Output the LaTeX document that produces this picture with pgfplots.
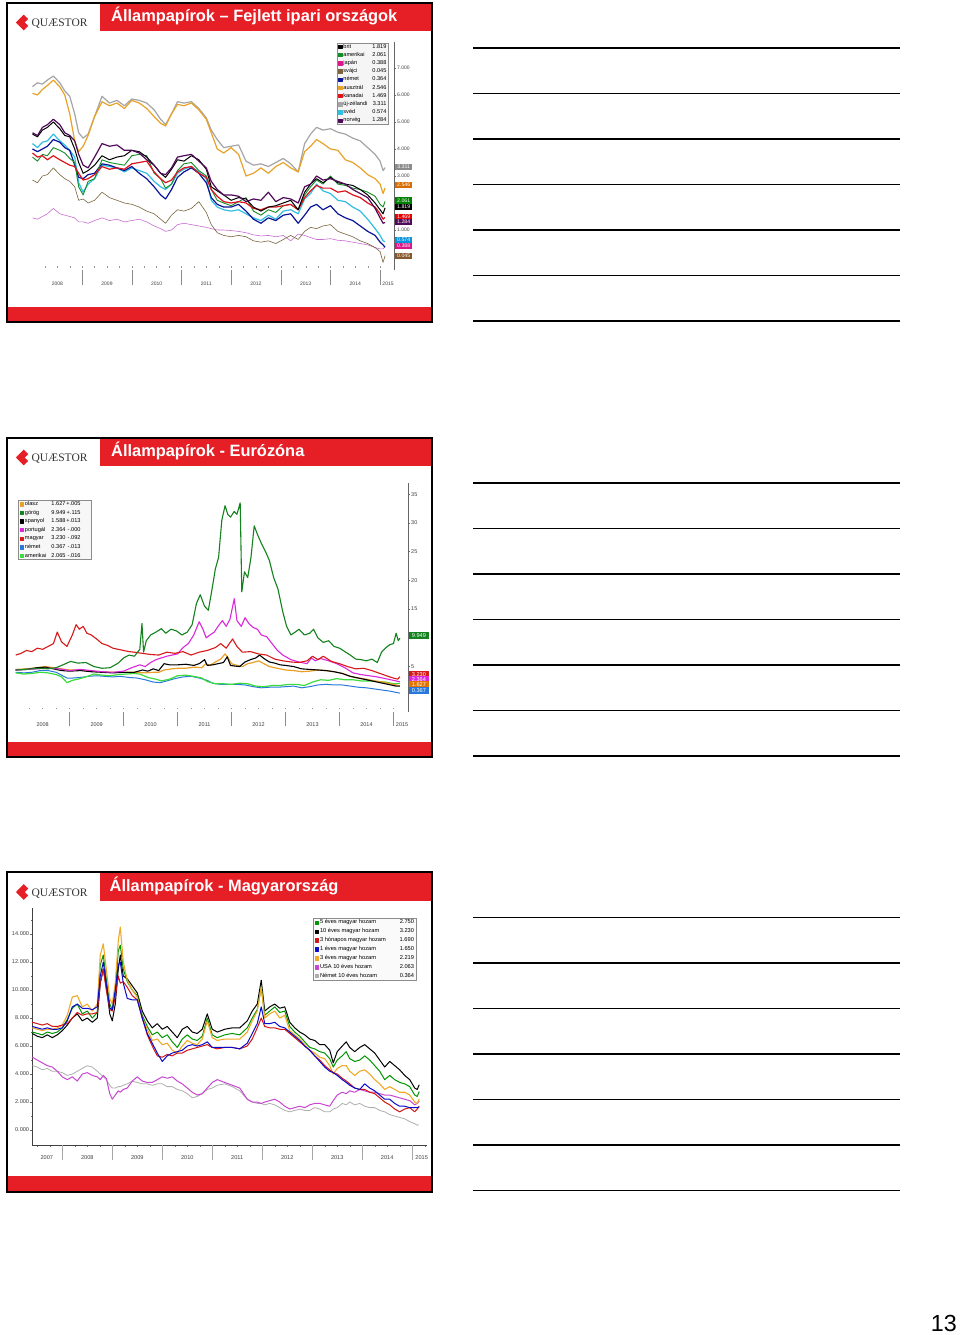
\documentclass[border=0pt]{standalone}
\usepackage{pgfplots}
\pgfplotsset{compat=1.18}
\usepackage{pgfplotstable}
\usepackage{fontspec}
\setmainfont{Liberation Sans}
\newfontfamily\logofont{Liberation Serif}

\newcommand\fz[1]{\fontsize{#1}{#1}\selectfont}

\definecolor{qred}{RGB}{230,30,38}
% chart 1
\definecolor{c1brit}{RGB}{0,0,0}
\definecolor{c1ame}{RGB}{20,140,40}
\definecolor{c1jap}{RGB}{200,110,210}
\definecolor{c1svj}{RGB}{120,100,60}
\definecolor{c1nem}{RGB}{10,20,150}
\definecolor{c1aus}{RGB}{232,162,40}
\definecolor{c1kan}{RGB}{220,20,30}
\definecolor{c1nz}{RGB}{165,165,165}
\definecolor{c1sve}{RGB}{50,190,225}
\definecolor{c1nor}{RGB}{80,10,90}
% chart 2
\definecolor{c2ola}{RGB}{232,160,40}
\definecolor{c2gor}{RGB}{20,130,30}
\definecolor{c2spa}{RGB}{0,0,0}
\definecolor{c2por}{RGB}{220,40,220}
\definecolor{c2mag}{RGB}{215,25,25}
\definecolor{c2nem}{RGB}{40,120,220}
\definecolor{c2ame}{RGB}{60,220,60}
% chart 3
\definecolor{c3g}{RGB}{0,150,0}
\definecolor{c3k}{RGB}{0,0,0}
\definecolor{c3r}{RGB}{210,20,20}
\definecolor{c3b}{RGB}{10,10,200}
\definecolor{c3o}{RGB}{240,170,40}
\definecolor{c3m}{RGB}{200,70,210}
\definecolor{c3y}{RGB}{175,175,175}

\pgfplotstableread{
t brit ame jap svj nem aus kan nz sve nor
2008.00 4.55 3.70 1.45 2.85 4.00 6.06 3.85 6.31 4.20 4.60
2008.10 4.45 3.55 1.40 2.75 3.90 6.00 3.70 6.45 4.05 4.50
2008.20 4.70 3.80 1.50 3.00 4.00 6.20 3.75 6.40 4.25 4.80
2008.30 4.80 3.75 1.60 3.05 4.10 6.35 3.60 6.55 4.30 4.90
2008.42 5.00 4.05 1.80 3.30 4.35 6.55 3.75 6.70 4.55 5.10
2008.55 4.75 3.95 1.60 3.05 4.25 6.30 3.60 6.45 4.30 4.90
2008.65 4.50 3.85 1.55 2.90 4.05 6.00 3.50 6.15 4.15 4.60
2008.75 4.45 3.65 1.50 2.80 3.95 5.30 3.40 5.95 3.95 4.50
2008.85 4.00 3.50 1.45 2.60 3.40 4.30 3.35 5.30 3.70 4.30
2008.93 3.50 2.60 1.30 2.10 2.95 3.90 3.10 4.60 2.75 3.80
2009.02 3.10 2.30 1.30 2.15 2.90 4.10 2.85 4.40 2.40 3.40
2009.12 3.20 2.80 1.25 2.00 3.05 4.50 2.90 4.55 2.70 3.30
2009.25 3.40 2.90 1.35 2.10 3.10 5.20 3.05 5.20 2.90 3.70
2009.40 3.75 3.60 1.45 2.40 3.45 5.75 3.35 5.95 3.40 4.20
2009.55 3.60 3.50 1.35 2.20 3.40 5.60 3.25 5.70 3.35 4.10
2009.70 3.70 3.45 1.40 2.10 3.30 5.70 3.30 5.80 3.30 4.15
2009.85 3.75 3.40 1.30 2.00 3.20 5.50 3.25 5.60 3.15 3.95
2010.00 3.95 3.75 1.35 1.95 3.35 5.80 3.45 5.85 3.30 3.95
2010.15 3.90 3.80 1.40 1.85 3.10 5.70 3.50 5.80 3.20 3.85
2010.30 3.70 3.75 1.30 1.70 2.90 5.50 3.55 5.70 3.10 3.60
2010.45 3.40 3.10 1.15 1.60 2.60 5.20 3.15 5.45 2.80 3.40
2010.58 3.10 2.90 1.05 1.40 2.30 4.95 2.90 5.10 2.60 3.10
2010.68 2.95 2.55 0.95 1.25 2.15 4.85 2.75 4.90 2.50 3.05
2010.80 3.25 2.70 1.00 1.55 2.50 5.30 2.85 5.30 2.70 3.30
2010.92 3.60 3.20 1.20 1.75 2.95 5.65 3.15 5.75 3.10 3.70
2011.05 3.55 3.45 1.25 1.70 3.15 5.60 3.30 5.70 3.25 3.75
2011.20 3.75 3.50 1.20 1.80 3.30 5.70 3.35 5.75 3.35 3.80
2011.35 3.60 3.20 1.15 2.05 3.10 5.45 3.10 5.50 3.15 3.55
2011.50 3.25 3.00 1.10 1.65 2.75 5.10 2.95 5.15 2.90 3.30
2011.60 2.60 2.50 1.05 1.20 2.20 4.60 2.50 4.70 2.10 2.80
2011.72 2.45 2.10 1.00 0.90 1.95 4.00 2.25 4.35 1.85 2.50
2011.85 2.30 2.00 1.00 0.80 1.85 3.85 2.05 4.05 1.75 2.30
2012.00 2.10 1.90 0.98 0.75 1.85 4.05 2.00 4.10 1.70 2.30
2012.15 2.20 2.05 0.95 0.80 1.95 3.80 2.05 4.15 1.75 2.25
2012.30 2.15 2.20 0.90 0.75 1.70 3.00 2.00 3.55 1.60 2.05
2012.45 1.85 1.70 0.82 0.60 1.40 3.10 1.80 3.40 1.45 2.15
2012.60 1.70 1.55 0.78 0.55 1.25 3.30 1.75 3.45 1.35 2.10
2012.75 1.85 1.75 0.80 0.60 1.45 3.10 1.85 3.35 1.55 2.40
2012.90 1.90 1.65 0.75 0.50 1.35 3.35 1.85 3.50 1.40 2.05
2013.05 2.00 1.90 0.80 0.65 1.55 3.50 1.90 3.65 1.70 2.20
2013.20 2.10 1.95 0.60 0.80 1.60 3.30 1.95 3.45 1.75 2.15
2013.35 1.75 1.75 0.85 0.65 1.25 3.15 1.75 3.15 1.60 2.00
2013.48 2.40 2.30 0.80 0.95 1.55 3.90 2.20 4.20 2.15 2.60
2013.60 2.70 2.60 0.72 1.10 1.85 4.10 2.45 4.55 2.35 2.70
2013.72 2.90 2.85 0.65 1.05 1.95 4.35 2.65 4.80 2.70 3.00
2013.85 2.75 2.70 0.65 1.15 1.75 4.20 2.55 4.70 2.45 2.85
2014.00 2.95 3.00 0.68 1.20 1.90 4.00 2.55 4.75 2.35 2.90
2014.15 2.75 2.70 0.62 0.95 1.60 3.95 2.40 4.62 2.10 2.80
2014.30 2.70 2.65 0.60 0.85 1.45 3.60 2.45 4.55 2.05 2.70
2014.45 2.65 2.55 0.55 0.75 1.35 3.50 2.30 4.40 1.85 2.50
2014.60 2.50 2.50 0.50 0.60 1.15 3.30 2.20 4.30 1.70 2.35
2014.75 2.30 2.40 0.45 0.50 0.95 3.05 2.00 4.05 1.40 2.20
2014.90 2.00 2.25 0.35 0.35 0.80 2.90 1.85 3.80 1.05 1.80
2015.00 1.75 1.95 0.30 0.20 0.55 2.70 1.60 3.55 0.80 1.45
2015.06 1.60 1.85 0.30 -0.20 0.45 2.35 1.40 3.20 0.60 1.25
2015.10 1.82 2.06 0.39 0.05 0.36 2.55 1.47 3.31 0.57 1.28
}\tabA

\pgfplotstableread{
t bk gr or rd bl mg gy
2007.40 6.9 7.0 7.3 7.7 7.4 5.2 4.6
2007.50 6.7 6.9 7.2 7.6 7.3 5.0 4.5
2007.60 6.6 6.8 7.1 7.5 7.2 4.8 4.3
2007.70 6.8 7.0 7.2 7.6 7.3 4.6 4.4
2007.80 6.6 6.9 7.2 7.4 7.2 4.5 4.2
2007.90 6.8 7.0 7.3 7.4 7.2 4.2 4.2
2008.00 7.1 7.3 7.5 7.5 7.3 3.8 4.1
2008.10 7.5 7.9 8.2 7.6 7.8 3.6 3.9
2008.20 8.0 8.7 9.5 8.0 8.8 3.8 4.0
2008.30 8.3 9.0 9.6 8.4 9.0 3.5 4.2
2008.40 7.8 8.3 8.8 8.2 8.7 4.0 4.4
2008.50 8.0 8.5 9.0 8.3 8.7 4.1 4.6
2008.60 7.7 8.0 8.5 8.3 8.6 3.9 4.5
2008.70 8.0 8.4 9.0 8.4 8.8 3.8 4.2
2008.76 10.5 11.8 12.5 10.5 11.0 3.6 4.0
2008.82 11.5 12.5 13.3 11.5 12.0 3.9 3.8
2008.88 10.3 10.8 11.5 10.0 10.5 3.7 3.6
2008.95 8.3 9.0 9.4 8.6 8.7 2.6 3.2
2009.00 7.8 8.6 9.0 8.5 8.6 2.2 3.0
2009.06 9.0 10.0 10.5 9.5 10.0 2.5 3.0
2009.12 11.5 12.8 13.5 11.0 11.8 2.8 3.1
2009.16 12.5 13.2 14.5 10.5 12.0 2.7 3.1
2009.22 11.0 11.5 12.0 10.6 10.5 2.9 3.2
2009.30 10.8 10.6 10.7 10.2 9.4 3.0 3.3
2009.40 10.3 10.0 10.0 9.6 9.3 3.5 3.5
2009.50 9.8 9.6 9.5 9.3 9.3 3.8 3.4
2009.60 8.5 8.2 8.0 8.0 8.0 3.5 3.3
2009.70 7.8 7.4 7.2 6.8 6.9 3.4 3.3
2009.80 7.3 6.8 6.4 6.0 6.2 3.4 3.2
2009.90 7.6 7.0 6.5 5.3 5.5 3.6 3.3
2010.00 7.2 6.6 6.1 5.2 4.9 3.8 3.3
2010.10 7.4 6.8 6.2 5.4 5.3 3.7 3.1
2010.20 7.0 6.3 5.7 5.3 5.5 3.8 3.1
2010.30 6.6 5.9 5.5 5.5 5.6 3.5 2.9
2010.40 7.2 6.5 6.0 5.5 5.7 3.3 2.8
2010.50 7.4 6.8 6.4 5.7 6.0 3.0 2.6
2010.60 7.0 6.5 6.2 5.8 6.1 2.7 2.3
2010.70 6.9 6.4 6.1 5.9 6.0 2.5 2.4
2010.80 7.2 6.7 6.5 6.0 6.1 2.6 2.6
2010.90 8.3 8.0 7.8 6.1 6.3 3.0 2.9
2011.00 7.2 6.8 6.6 5.9 5.9 3.4 3.0
2011.10 7.0 6.6 6.4 5.8 5.9 3.6 3.2
2011.25 7.2 6.8 6.5 5.9 5.9 3.4 3.3
2011.40 7.3 6.9 6.5 5.9 5.9 3.2 3.1
2011.55 7.3 6.8 6.5 5.8 5.8 3.0 2.8
2011.70 7.8 7.3 7.0 6.0 6.2 2.2 2.2
2011.80 8.5 8.0 7.8 6.5 6.9 2.0 2.0
2011.90 9.0 8.6 8.5 7.3 7.6 2.0 1.9
2011.98 10.7 10.2 10.2 8.0 8.8 1.9 1.9
2012.05 8.5 8.2 8.0 7.4 7.6 2.0 1.8
2012.15 8.8 8.5 8.3 7.3 7.6 2.1 1.9
2012.25 9.0 8.8 8.5 7.3 7.7 2.2 1.8
2012.35 8.7 8.4 8.0 7.2 7.4 2.0 1.6
2012.45 8.8 8.5 8.2 7.2 7.3 1.7 1.4
2012.55 7.7 7.4 7.1 6.9 7.0 1.5 1.3
2012.65 7.3 7.0 6.8 6.6 6.7 1.6 1.4
2012.75 7.0 6.7 6.5 6.3 6.4 1.7 1.5
2012.85 6.8 6.3 6.1 6.0 6.0 1.6 1.4
2012.95 6.5 5.9 5.7 5.7 5.7 1.8 1.4
2013.05 6.4 5.8 5.5 5.3 5.3 1.9 1.6
2013.15 6.1 5.6 5.2 5.0 4.9 1.9 1.5
2013.25 6.1 5.5 5.1 4.6 4.5 1.8 1.3
2013.35 5.7 5.1 4.6 4.3 4.2 1.7 1.3
2013.42 4.8 4.5 4.0 4.1 4.1 2.1 1.5
2013.50 5.6 5.0 4.4 4.0 3.9 2.5 1.6
2013.60 6.0 5.3 4.6 3.7 3.6 2.7 1.9
2013.68 6.3 5.6 4.6 3.5 3.4 2.6 1.8
2013.75 5.9 5.1 4.2 3.3 3.2 2.8 2.0
2013.85 5.6 4.9 3.9 3.0 3.0 2.7 1.8
2013.95 5.9 5.0 4.2 2.9 2.9 2.9 1.9
2014.05 6.1 5.3 4.3 2.9 3.3 2.8 1.7
2014.15 5.8 5.0 4.0 2.7 3.0 2.7 1.6
2014.25 5.5 4.6 3.6 2.6 2.8 2.7 1.6
2014.35 5.0 4.2 3.3 2.3 2.5 2.6 1.4
2014.45 4.5 3.6 2.9 2.0 2.2 2.5 1.3
2014.55 4.9 3.9 3.1 1.8 2.2 2.5 1.1
2014.65 4.6 3.6 2.9 1.5 1.9 2.4 1.0
2014.75 4.3 3.4 2.7 1.3 1.7 2.3 0.9
2014.85 3.9 3.3 2.7 1.5 1.7 2.2 0.8
2014.95 3.6 3.1 2.5 1.6 1.6 2.1 0.6
2015.05 3.0 2.5 2.0 1.3 1.6 1.8 0.45
2015.10 2.9 2.4 1.9 1.5 1.6 1.9 0.35
2015.14 3.23 2.75 2.22 1.69 1.65 2.06 0.36
}\tabC

\tikzset{vlab/.style={anchor=west, inner sep=0pt, text=white, xshift=1pt}}

\newcommand\slide[3]{%
\begin{scope}[x=1pt,y=-1pt,yshift=-#1pt]
\fill[white] (7.3,2.7) rectangle (432,322.3);
\fill[qred] (100,3.7) rectangle (431,31.3);
\fill[qred] (8.3,306.7) rectangle (431,321.3);
\draw[line width=1.8pt] (7.3,2.7) rectangle (432,322.3);
\fill[qred] (16,22.5) -- (23.8,14.6) -- (31.6,22.5) -- (23.8,30.4) -- cycle;
\fill[white] (25,22.5) -- (31.9,15.6) -- (31.9,29.4) -- cycle;
\node[anchor=base west, inner sep=0pt, text=black!80, font=\logofont\fz{11.5}] at (31.3,26.7) {QUÆSTOR};
\node[anchor=base west, inner sep=0pt, text=white, font=\bfseries\fz{16.4}] at (#3,21.7) {#2};
\foreach \yy in {48,93.5,139,184.5,230,275.5,321} {\draw[line width=1.2pt] (473,\yy) -- (900,\yy);}
\end{scope}}

\pgfplotsset{
  qbase/.style={
    scale only axis, clip=false,
    tick align=outside, major tick length=2pt, minor tick length=1.5pt,
    tick style={black!60, line width=0.4pt},
    major x tick style={draw=none},
    every axis plot/.append style={line join=round, mark=none},
    legend cell align=left,
    legend image code/.code={\fill[##1] (0pt,-1.7pt) rectangle (3.4pt,1.7pt);},
  }
}

\newcommand\lgA[2]{\kern1.5pt\makebox[29pt][l]{#1}\makebox[14pt][r]{#2}\kern1pt}
\newcommand\lgB[3]{\kern1.5pt\makebox[26pt][l]{#1}\makebox[14.5pt][r]{#2}\makebox[15pt][r]{#3}\makebox[10pt]{}}
\newcommand\lgC[2]{\kern1.5pt\makebox[78pt][l]{#1}\makebox[16pt][r]{#2}\kern1pt}

\begin{document}
\begin{tikzpicture}
\begin{scope}[x=1pt,y=-1pt]
\path (0,0) rectangle (960,1335);
\end{scope}
\slide{0}{Állampapírok – Fejlett ipari országok}{111}
\slide{435}{Állampapírok - Eurózóna}{111}
\slide{869.5}{Állampapírok - Magyarország}{109.5}
\begin{scope}[x=1pt,y=-1pt]
\node[anchor=base east, inner sep=0pt, font=\fz{23.3}] at (957,1331) {13};
\end{scope}

%================ CHART 1 =================
\begin{axis}[qbase,
  at={(31.5pt,-270pt)}, anchor=south west,
  width=362.5pt, height=228pt,
  xmin=2007.98, xmax=2015.28, ymin=-0.48, ymax=7.96,
  axis x line*=bottom, axis y line*=right,
  x axis line style={draw=none},
  y axis line style={draw=black!60, line width=0.6pt},
  ytick={1,3,4,5,6,7}, minor ytick={0.5,1.5,2,2.5,3.5,4.5,5.5,6.5,7.5},
  yticklabel style={font=\fz{5}, text=black!75, inner sep=1pt,
    /pgf/number format/fixed, /pgf/number format/fixed zerofill,
    /pgf/number format/precision=3, /pgf/number format/assume math mode=true},
  xtick={2008.5,2009.5,2010.5,2011.5,2012.5,2013.5,2014.5,2015.16},
  xticklabels={2008,2009,2010,2011,2012,2013,2014,2015},
  xticklabel style={font=\fz{5}, text=black!75, yshift=-6pt},
  minor xtick={2008.25,2008.5,...,2015.0},
  minor x tick style={draw=black!40, yshift=4pt},
  extra x ticks={2009,2010,...,2015},
  extra x tick labels={},
  extra x tick style={major tick length=15pt, major x tick style={draw=black!45, line width=0.5pt}},
  legend style={at={(rel axis cs:0.842,0.997)}, anchor=north west, draw=black!45, fill=black!4,
    font=\fz{5.6}, inner sep=1.2pt, row sep=2.9pt,
    nodes={inner sep=0pt, text height=4pt, text depth=1.3pt}},
]
\addplot[forget plot, c1jap, line width=0.6pt] table[x=t,y=jap]{\tabA};
\addplot[forget plot, c1svj, line width=0.6pt] table[x=t,y=svj]{\tabA};
\addplot[forget plot, c1nz, line width=1.2pt] table[x=t,y=nz]{\tabA};
\addplot[forget plot, c1aus, line width=1.2pt] table[x=t,y=aus]{\tabA};
\addplot[forget plot, c1sve, line width=1.2pt] table[x=t,y=sve]{\tabA};
\addplot[forget plot, c1nem, line width=1.2pt] table[x=t,y=nem]{\tabA};
\addplot[forget plot, c1ame, line width=0.9pt] table[x=t,y=ame]{\tabA};
\addplot[forget plot, c1kan, line width=1.2pt] table[x=t,y=kan]{\tabA};
\addplot[forget plot, c1brit, line width=1.0pt] table[x=t,y=brit]{\tabA};
\addplot[forget plot, c1nor, line width=1.2pt] table[x=t,y=nor]{\tabA};
\addlegendimage{color=c1brit}\addlegendentry{\lgA{brit}{1.819}}
\addlegendimage{color=c1ame}\addlegendentry{\lgA{amerikai}{2.061}}
\addlegendimage{color=magenta!90!black}\addlegendentry{\lgA{japán}{0.388}}
\addlegendimage{color=c1svj}\addlegendentry{\lgA{svájci}{0.045}}
\addlegendimage{color=c1nem}\addlegendentry{\lgA{német}{0.364}}
\addlegendimage{color=c1aus}\addlegendentry{\lgA{ausztrál}{2.546}}
\addlegendimage{color=c1kan}\addlegendentry{\lgA{kanadai}{1.469}}
\addlegendimage{color=c1nz}\addlegendentry{\lgA{új-zélandi}{3.311}}
\addlegendimage{color=c1sve}\addlegendentry{\lgA{svéd}{0.574}}
\addlegendimage{color=c1nor}\addlegendentry{\lgA{norvég}{1.284}}
\begin{scope}[every node/.style={vlab, font=\fz{5.2}, minimum width=17pt, minimum height=6.6pt}]
\node[fill=black!45] at (axis cs:2015.28,3.33) {3.311};
\node[fill=orange!85!black] at (axis cs:2015.28,2.67) {2.546};
\node[fill=green!50!black] at (axis cs:2015.28,2.09) {2.061};
\node[fill=black] at (axis cs:2015.28,1.85) {1.819};
\node[fill=red!90!black] at (axis cs:2015.28,1.48) {1.469};
\node[fill=c1nor] at (axis cs:2015.28,1.30) {1.284};
\node[fill=cyan!80!blue] at (axis cs:2015.28,0.63) {0.574};
\node[fill=magenta!90!black] at (axis cs:2015.28,0.41) {0.388};
\node[fill=brown!70!black] at (axis cs:2015.28,0.04) {0.045};
\end{scope}
\end{axis}

%================ CHART 2 =================
\begin{axis}[qbase,
  at={(13pt,-711.7pt)}, anchor=south west,
  width=395pt, height=228.4pt,
  xmin=2007.95, xmax=2015.27, ymin=-2.86, ymax=36.9,
  axis x line*=bottom, axis y line*=right,
  x axis line style={draw=none},
  y axis line style={draw=black!60, line width=0.6pt},
  ytick={5,15,20,25,30,35}, minor ytick={2.5,7.5,10,12.5,...,35},
  yticklabel style={font=\fz{5.5}, text=black!75, inner sep=1pt,
    /pgf/number format/assume math mode=true},
  xtick={2008.5,2009.5,2010.5,2011.5,2012.5,2013.5,2014.5,2015.16},
  xticklabels={2008,2009,2010,2011,2012,2013,2014,2015},
  xticklabel style={font=\fz{5.5}, text=black!75, yshift=-5.5pt},
  minor xtick={2008.25,2008.5,...,2015.0},
  minor x tick style={draw=black!40, yshift=4pt},
  extra x ticks={2009,2010,...,2015},
  extra x tick labels={},
  extra x tick style={major tick length=14pt, major x tick style={draw=black!45, line width=0.5pt}},
  legend style={at={(rel axis cs:0.0134,0.927)}, anchor=north west, draw=black!45, fill=black!3,
    font=\fz{5.6}, inner sep=1.2pt, row sep=3.2pt,
    nodes={inner sep=0pt, text height=4.1pt, text depth=1.3pt}},
]
\addplot[forget plot, c2nem, line width=1.0pt] coordinates {(2008.00,4.0) (2008.15,3.9) (2008.30,4.0) (2008.45,4.3) (2008.60,4.3) (2008.75,4.0) (2008.85,3.5) (2008.95,3.0) (2009.05,3.0) (2009.20,3.1) (2009.35,3.3) (2009.50,3.4) (2009.65,3.3) (2009.80,3.2) (2009.95,3.3) (2010.10,3.1) (2010.25,3.0) (2010.40,2.7) (2010.55,2.3) (2010.68,2.2) (2010.80,2.5) (2010.95,2.9) (2011.10,3.2) (2011.25,3.3) (2011.40,3.0) (2011.55,2.6) (2011.65,2.1) (2011.80,1.9) (2011.95,1.9) (2012.10,1.9) (2012.25,1.8) (2012.40,1.5) (2012.55,1.3) (2012.70,1.4) (2012.85,1.4) (2013.00,1.5) (2013.15,1.6) (2013.30,1.3) (2013.45,1.5) (2013.60,1.8) (2013.75,1.9) (2013.90,1.8) (2014.05,1.8) (2014.20,1.6) (2014.35,1.4) (2014.50,1.3) (2014.65,1.1) (2014.80,0.9) (2014.95,0.7) (2015.05,0.5) (2015.12,0.37)};
\addplot[forget plot, c2ame, line width=1.2pt] coordinates {(2008.00,3.9) (2008.15,3.7) (2008.30,3.8) (2008.45,4.0) (2008.60,3.9) (2008.75,3.6) (2008.85,3.2) (2008.95,2.2) (2009.05,2.6) (2009.15,2.8) (2009.30,3.2) (2009.45,3.7) (2009.60,3.5) (2009.75,3.4) (2009.90,3.6) (2010.05,3.7) (2010.20,3.8) (2010.30,3.7) (2010.45,3.1) (2010.60,2.8) (2010.70,2.5) (2010.85,2.8) (2011.00,3.4) (2011.15,3.5) (2011.30,3.3) (2011.45,3.0) (2011.55,2.4) (2011.70,2.0) (2011.85,2.0) (2012.00,1.9) (2012.15,2.1) (2012.30,2.0) (2012.45,1.6) (2012.60,1.5) (2012.75,1.7) (2012.90,1.7) (2013.05,1.9) (2013.20,1.9) (2013.35,1.7) (2013.50,2.3) (2013.65,2.7) (2013.80,2.6) (2013.95,2.9) (2014.10,2.7) (2014.25,2.7) (2014.40,2.5) (2014.55,2.5) (2014.70,2.4) (2014.85,2.3) (2015.00,2.0) (2015.12,2.07)};
\addplot[forget plot, c2ola, line width=1.2pt] coordinates {(2008.00,4.5) (2008.20,4.6) (2008.40,4.8) (2008.55,5.0) (2008.70,4.8) (2008.85,4.6) (2009.00,4.4) (2009.20,4.4) (2009.40,4.2) (2009.60,4.1) (2009.80,4.0) (2010.00,4.0) (2010.20,4.0) (2010.40,3.9) (2010.55,4.0) (2010.65,4.0) (2010.75,4.4) (2010.90,4.6) (2011.00,4.7) (2011.15,4.7) (2011.30,4.9) (2011.45,4.8) (2011.52,5.5) (2011.60,5.2) (2011.70,5.8) (2011.80,6.3) (2011.88,7.2) (2011.93,6.6) (2012.00,5.5) (2012.10,5.2) (2012.20,5.0) (2012.30,5.5) (2012.40,5.7) (2012.50,6.0) (2012.58,5.6) (2012.70,5.0) (2012.85,4.7) (2013.00,4.4) (2013.15,4.3) (2013.30,4.1) (2013.45,4.2) (2013.60,4.4) (2013.75,4.3) (2013.90,4.1) (2014.05,3.8) (2014.20,3.3) (2014.35,3.0) (2014.50,2.8) (2014.65,2.5) (2014.80,2.3) (2014.95,2.0) (2015.05,1.8) (2015.12,1.63)};
\addplot[forget plot, c2spa, line width=1.1pt] coordinates {(2008.00,4.4) (2008.20,4.5) (2008.40,4.8) (2008.55,4.9) (2008.70,4.6) (2008.85,4.3) (2009.00,4.2) (2009.20,4.3) (2009.40,4.1) (2009.60,4.0) (2009.80,3.9) (2010.00,4.0) (2010.20,4.0) (2010.35,4.4) (2010.45,4.2) (2010.55,4.6) (2010.65,4.3) (2010.75,5.5) (2010.85,5.3) (2011.00,5.3) (2011.15,5.4) (2011.30,5.2) (2011.40,5.5) (2011.50,6.2) (2011.55,5.2) (2011.65,5.3) (2011.75,5.5) (2011.85,5.7) (2011.92,6.7) (2011.98,5.2) (2012.05,5.1) (2012.15,5.0) (2012.25,5.8) (2012.35,6.2) (2012.45,6.5) (2012.52,7.0) (2012.60,6.4) (2012.70,5.8) (2012.80,5.6) (2012.90,5.3) (2013.00,5.2) (2013.15,5.0) (2013.30,4.6) (2013.45,4.5) (2013.60,4.4) (2013.75,4.3) (2013.90,4.1) (2014.05,3.8) (2014.20,3.3) (2014.35,3.0) (2014.50,2.7) (2014.65,2.4) (2014.80,2.1) (2014.95,1.8) (2015.05,1.6) (2015.12,1.59)};
\addplot[forget plot, c2por, line width=1.1pt] coordinates {(2008.00,4.4) (2008.20,4.5) (2008.40,4.6) (2008.60,4.7) (2008.80,4.6) (2009.00,4.3) (2009.20,4.5) (2009.40,4.3) (2009.60,4.1) (2009.80,4.0) (2010.00,4.2) (2010.15,4.8) (2010.30,5.3) (2010.40,5.0) (2010.50,5.7) (2010.60,6.2) (2010.70,6.5) (2010.80,6.8) (2010.90,7.0) (2011.00,7.2) (2011.10,8.3) (2011.20,9.0) (2011.30,10.5) (2011.40,12.8) (2011.47,11.5) (2011.53,10.0) (2011.60,10.5) (2011.68,11.0) (2011.75,12.0) (2011.83,13.0) (2011.90,12.0) (2011.97,13.2) (2012.05,16.8) (2012.10,13.0) (2012.18,12.0) (2012.25,13.5) (2012.32,12.5) (2012.40,11.8) (2012.48,11.5) (2012.55,10.5) (2012.65,10.2) (2012.75,9.0) (2012.85,7.8) (2012.95,7.0) (2013.10,6.2) (2013.25,5.8) (2013.40,5.5) (2013.48,6.5) (2013.55,6.0) (2013.65,6.4) (2013.80,6.0) (2013.95,5.5) (2014.10,4.8) (2014.25,3.9) (2014.40,3.6) (2014.55,3.4) (2014.70,3.2) (2014.85,2.9) (2015.00,2.6) (2015.12,2.36)};
\addplot[forget plot, c2mag, line width=1.1pt] coordinates {(2008.00,7.0) (2008.10,7.3) (2008.20,7.8) (2008.30,7.6) (2008.40,8.2) (2008.50,8.0) (2008.60,8.5) (2008.70,9.0) (2008.77,11.0) (2008.85,9.3) (2008.95,8.5) (2009.05,10.5) (2009.12,12.3) (2009.18,11.5) (2009.25,12.0) (2009.32,10.8) (2009.40,10.5) (2009.50,9.8) (2009.60,9.0) (2009.70,8.7) (2009.80,8.2) (2009.90,8.0) (2010.00,7.8) (2010.10,7.6) (2010.20,7.5) (2010.35,7.3) (2010.50,7.1) (2010.65,7.0) (2010.80,7.5) (2010.95,7.3) (2011.10,7.6) (2011.25,7.0) (2011.40,7.5) (2011.55,7.8) (2011.70,8.3) (2011.80,9.0) (2011.90,8.2) (2012.02,9.8) (2012.10,8.5) (2012.20,7.5) (2012.35,7.6) (2012.50,7.2) (2012.65,7.0) (2012.80,6.3) (2012.95,6.0) (2013.10,5.8) (2013.25,5.7) (2013.40,6.0) (2013.50,6.8) (2013.60,6.2) (2013.70,6.8) (2013.85,5.9) (2014.00,5.5) (2014.15,5.0) (2014.30,4.6) (2014.45,4.7) (2014.60,4.3) (2014.75,3.8) (2014.90,3.3) (2015.00,3.0) (2015.08,2.8) (2015.12,3.23)};
\addplot[forget plot, c2gor, line width=1.1pt] coordinates {(2008.00,4.4) (2008.15,4.5) (2008.30,4.6) (2008.45,4.7) (2008.60,4.6) (2008.75,4.8) (2008.90,5.4) (2009.02,5.9) (2009.15,5.6) (2009.30,5.7) (2009.45,5.0) (2009.60,4.7) (2009.75,4.8) (2009.90,5.6) (2010.00,6.5) (2010.10,7.0) (2010.20,6.8) (2010.30,8.0) (2010.34,12.5) (2010.37,7.5) (2010.42,9.5) (2010.50,10.5) (2010.60,11.0) (2010.70,11.6) (2010.78,10.8) (2010.88,11.5) (2010.98,11.2) (2011.08,10.5) (2011.18,11.0) (2011.27,12.3) (2011.35,16.0) (2011.42,17.5) (2011.50,15.5) (2011.57,14.8) (2011.63,18.0) (2011.70,22.0) (2011.76,24.0) (2011.82,30.5) (2011.88,33.0) (2011.93,31.5) (2011.98,31.0) (2012.05,32.0) (2012.10,31.5) (2012.16,33.5) (2012.19,18.0) (2012.24,21.5) (2012.30,20.5) (2012.36,24.0) (2012.42,29.5) (2012.48,28.0) (2012.55,26.5) (2012.63,25.0) (2012.70,23.5) (2012.78,20.5) (2012.86,18.5) (2012.95,14.5) (2013.02,12.0) (2013.10,10.5) (2013.18,11.0) (2013.25,11.5) (2013.35,10.5) (2013.45,10.8) (2013.52,11.5) (2013.60,10.0) (2013.70,9.2) (2013.80,9.5) (2013.90,8.5) (2014.00,8.2) (2014.10,7.6) (2014.20,7.0) (2014.30,6.3) (2014.40,6.2) (2014.50,6.0) (2014.60,6.3) (2014.70,5.7) (2014.78,7.5) (2014.85,8.2) (2014.93,8.8) (2015.00,9.0) (2015.05,10.8) (2015.09,9.5) (2015.12,9.95)};
\addlegendimage{color=c2ola}\addlegendentry{\lgB{olasz}{1.627}{+.005}}
\addlegendimage{color=c2gor}\addlegendentry{\lgB{görög}{9.949}{+.115}}
\addlegendimage{color=c2spa}\addlegendentry{\lgB{spanyol}{1.588}{+.013}}
\addlegendimage{color=c2por}\addlegendentry{\lgB{portugál}{2.364}{-.000}}
\addlegendimage{color=c2mag}\addlegendentry{\lgB{magyar}{3.230}{-.092}}
\addlegendimage{color=c2nem}\addlegendentry{\lgB{német}{0.367}{-.013}}
\addlegendimage{color=c2ame}\addlegendentry{\lgB{amerikai}{2.065}{-.016}}
\begin{scope}[every node/.style={vlab, font=\fz{5.6}, minimum width=19.5pt, minimum height=7pt}]
\node[fill=c2gor] at (axis cs:2015.27,10.33) {9.949};
\node[fill=c2mag] at (axis cs:2015.27,3.54) {3.230};
\node[fill=c2por] at (axis cs:2015.27,2.67) {2.364};
\node[fill=orange!90!black] at (axis cs:2015.27,1.79) {1.627};
\node[fill=c2nem] at (axis cs:2015.27,0.75) {0.367};
\end{scope}
\end{axis}

%================ CHART 3 =================
\begin{axis}[qbase,
  at={(32.3pt,-1145pt)}, anchor=south west,
  width=394.4pt, height=236.7pt,
  xmin=2007.4, xmax=2015.29, ymin=-1.07, ymax=15.84,
  axis x line*=bottom, axis y line*=left,
  axis line style={draw=black!75, line width=0.6pt},
  ytick={0,2,...,14}, minor ytick={1,3,...,15},
  yticklabel style={font=\fz{5.6}, text=black!75, inner sep=1pt,
    /pgf/number format/fixed, /pgf/number format/fixed zerofill,
    /pgf/number format/precision=3, /pgf/number format/assume math mode=true},
  xtick={2007.69,2008.5,2009.5,2010.5,2011.5,2012.5,2013.5,2014.5,2015.19},
  xticklabels={2007,2008,2009,2010,2011,2012,2013,2014,2015},
  xticklabel style={font=\fz{5.6}, text=black!75, yshift=-5pt},
  minor xtick={2007.5,2007.75,...,2015.25},
  minor x tick style={draw=black!55},
  extra x ticks={2008,2009,...,2015},
  extra x tick labels={},
  extra x tick style={major tick length=15pt, major x tick style={draw=black!35, line width=0.5pt}},
  legend style={at={(rel axis cs:0.7125,0.958)}, anchor=north west, draw=black!45, fill=black!2,
    font=\fz{5.7}, inner sep=1.2pt, row sep=3.2pt,
    nodes={inner sep=0pt, text height=4.3pt, text depth=1.4pt}},
]
\addplot[forget plot, c3y, line width=0.8pt] table[x=t,y=gy]{\tabC};
\addplot[forget plot, c3m, line width=1.0pt] table[x=t,y=mg]{\tabC};
\addplot[forget plot, c3k, line width=1.0pt] table[x=t,y=bk]{\tabC};
\addplot[forget plot, c3g, line width=1.0pt] table[x=t,y=gr]{\tabC};
\addplot[forget plot, c3o, line width=1.1pt] table[x=t,y=or]{\tabC};
\addplot[forget plot, c3r, line width=1.0pt] table[x=t,y=rd]{\tabC};
\addplot[forget plot, c3b, line width=1.0pt] table[x=t,y=bl]{\tabC};
\addlegendimage{color=c3g}\addlegendentry{\lgC{5 éves magyar hozam}{2.750}}
\addlegendimage{color=c3k}\addlegendentry{\lgC{10 éves magyar hozam}{3.230}}
\addlegendimage{color=c3r}\addlegendentry{\lgC{3 hónapos magyar hozam}{1.690}}
\addlegendimage{color=c3b}\addlegendentry{\lgC{1 éves magyar hozam}{1.650}}
\addlegendimage{color=c3o}\addlegendentry{\lgC{3 éves magyar hozam}{2.219}}
\addlegendimage{color=c3m}\addlegendentry{\lgC{USA 10 éves hozam}{2.063}}
\addlegendimage{color=c3y}\addlegendentry{\lgC{Német 10 éves hozam}{0.364}}
\end{axis}
\end{tikzpicture}
\end{document}
